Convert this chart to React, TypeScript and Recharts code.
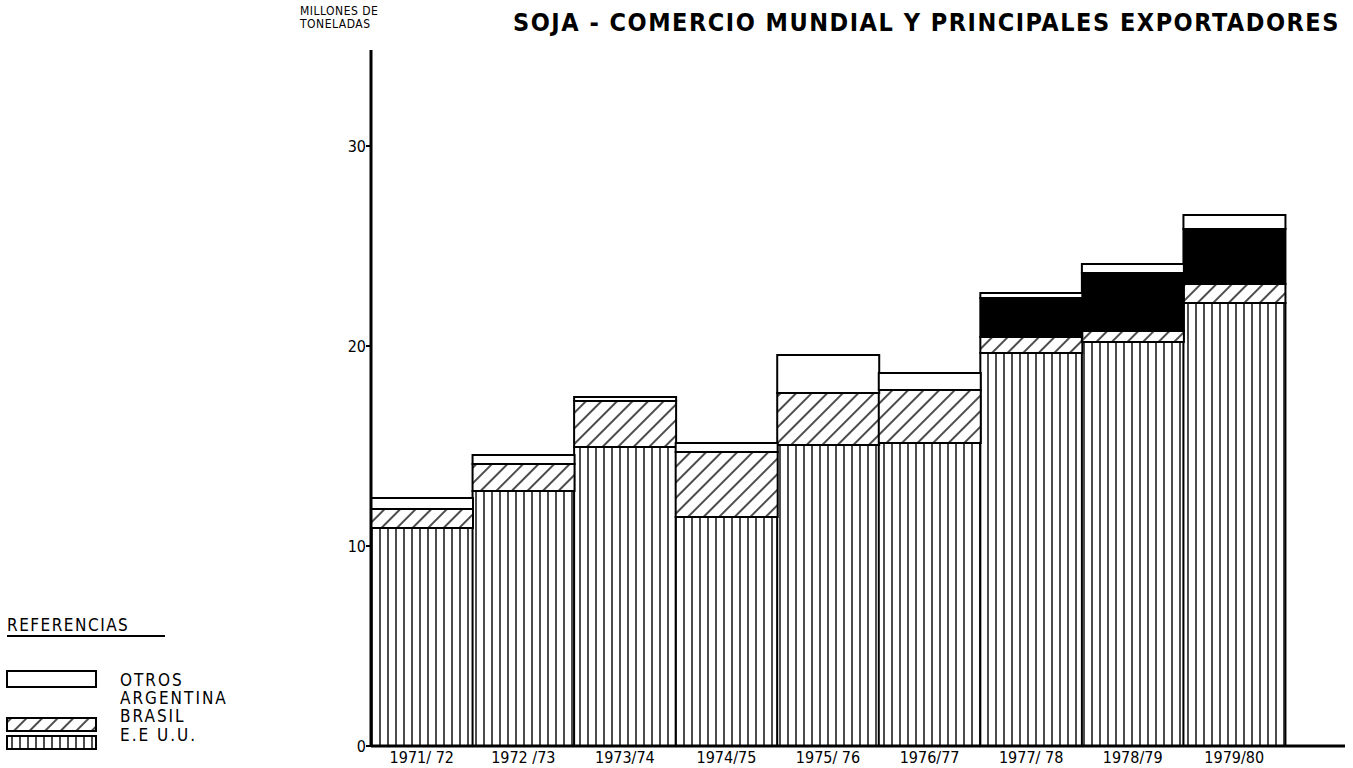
import { Bar, BarChart, XAxis, YAxis } from "recharts";

const campaigns = ["1971/ 72", "1972 /73", "1973/74", "1974/75", "1975/ 76", "1976/77", "1977/ 78", "1978/79", "1979/80"];
const eeuu = [10.9, 12.75, 14.95, 11.45, 15.05, 15.15, 19.65, 20.2, 22.15];
const brasil = [0.95, 1.35, 2.3, 3.25, 2.6, 2.65, 0.8, 0.55, 0.95];
const argentina = [0, 0, 0, 0, 0, 0, 1.95, 2.9, 2.75];
const otros = [0.55, 0.45, 0.2, 0.45, 1.9, 0.85, 0.25, 0.45, 0.7];
const yTicks = [0, 10, 20, 30];

const data = campaigns.map((name, i) => ({
  name,
  eeuu: eeuu[i],
  brasil: brasil[i],
  argentina: argentina[i],
  otros: otros[i],
}));

const font = "'Liberation Sans Narrow', 'DejaVu Sans Condensed', 'Liberation Sans', sans-serif";

function Patterns() {
  return (
    <svg width={0} height={0} style={{ position: "absolute" }}>
      <defs>
        <pattern id="stripes" width={8} height={10} patternUnits="userSpaceOnUse">
          <rect width={8} height={10} fill="#fff" />
          <line x1={4} y1={0} x2={4} y2={10} stroke="#000" strokeWidth={1.4} />
        </pattern>
        <pattern id="hatch" width={11} height={11} patternUnits="userSpaceOnUse" patternTransform="rotate(45)">
          <rect width={11} height={11} fill="#fff" />
          <line x1={5} y1={0} x2={5} y2={11} stroke="#000" strokeWidth={1.4} />
        </pattern>
      </defs>
    </svg>
  );
}

function Legend() {
  const text = { position: "absolute" as const, left: 120, fontSize: 17, letterSpacing: 2, whiteSpace: "nowrap" as const, lineHeight: "18px" };
  return (
    <div style={{ position: "absolute", left: 0, top: 0, fontFamily: font, color: "#000" }}>
      <div style={{ position: "absolute", left: 7, top: 615, width: 158, fontSize: 17, letterSpacing: 1.5, borderBottom: "2px solid #000", lineHeight: "20px", whiteSpace: "nowrap" }}>
        REFERENCIAS
      </div>
      <svg style={{ position: "absolute", left: 0, top: 660 }} width={110} height={100}>
        <rect x={7} y={11} width={89} height={16} fill="#fff" stroke="#000" strokeWidth={2} />
        <rect x={7} y={58} width={89} height={13} fill="url(#hatch)" stroke="#000" strokeWidth={2} />
        <rect x={7} y={76} width={89} height={13} fill="url(#stripes)" stroke="#000" strokeWidth={2} />
      </svg>
      <div style={{ ...text, top: 671 }}>OTROS</div>
      <div style={{ ...text, top: 689 }}>ARGENTINA</div>
      <div style={{ ...text, top: 707 }}>BRASIL</div>
      <div style={{ ...text, top: 726 }}>E.E U.U.</div>
    </div>
  );
}

export default function App() {
  return (
    <div style={{ position: "absolute", left: 0, top: 0, width: 1353, height: 768, background: "#fff", overflow: "hidden" }}>
      <Patterns />
      <div style={{ position: "absolute", left: 300, top: 5, fontFamily: font, fontSize: 12, lineHeight: "13px", color: "#000", letterSpacing: 0.5, whiteSpace: "nowrap" }}>
        MILLONES DE
        <br />
        TONELADAS
      </div>
      <div style={{ position: "absolute", left: 513, top: 8, fontFamily: font, fontSize: 25, fontWeight: "bold", color: "#000", letterSpacing: 1.5, whiteSpace: "nowrap" }}>
        SOJA - COMERCIO MUNDIAL Y PRINCIPALES EXPORTADORES
      </div>
      <Legend />
      <div style={{ position: "absolute", left: 0, top: 0 }}>
        <BarChart width={1353} height={768} data={data} barCategoryGap={0} margin={{ top: 50, right: 8, bottom: 2, left: 331 }}>
          <XAxis
            dataKey="name"
            height={20}
            padding={{ left: 0, right: 60 }}
            tickLine={false}
            axisLine={{ stroke: "#000", strokeWidth: 3 }}
            tick={{ fill: "#000", fontSize: 16, fontFamily: font }}
            tickMargin={0}
            interval={0}
          />
          <YAxis
            width={40}
            domain={[0, 34.8]}
            ticks={yTicks}
            tickSize={5}
            allowDataOverflow
            axisLine={{ stroke: "#000", strokeWidth: 3 }}
            tickLine={{ stroke: "#000", strokeWidth: 2 }}
            tick={{ fill: "#000", fontSize: 16, fontFamily: font }}
            tickMargin={0}
          />
          <Bar dataKey="eeuu" stackId="a" fill="url(#stripes)" stroke="#000" strokeWidth={2} isAnimationActive={false} />
          <Bar dataKey="brasil" stackId="a" fill="url(#hatch)" stroke="#000" strokeWidth={2} isAnimationActive={false} />
          <Bar dataKey="argentina" stackId="a" fill="#000" stroke="#000" strokeWidth={2} isAnimationActive={false} />
          <Bar dataKey="otros" stackId="a" fill="#fff" stroke="#000" strokeWidth={2} isAnimationActive={false} />
        </BarChart>
      </div>
    </div>
  );
}
